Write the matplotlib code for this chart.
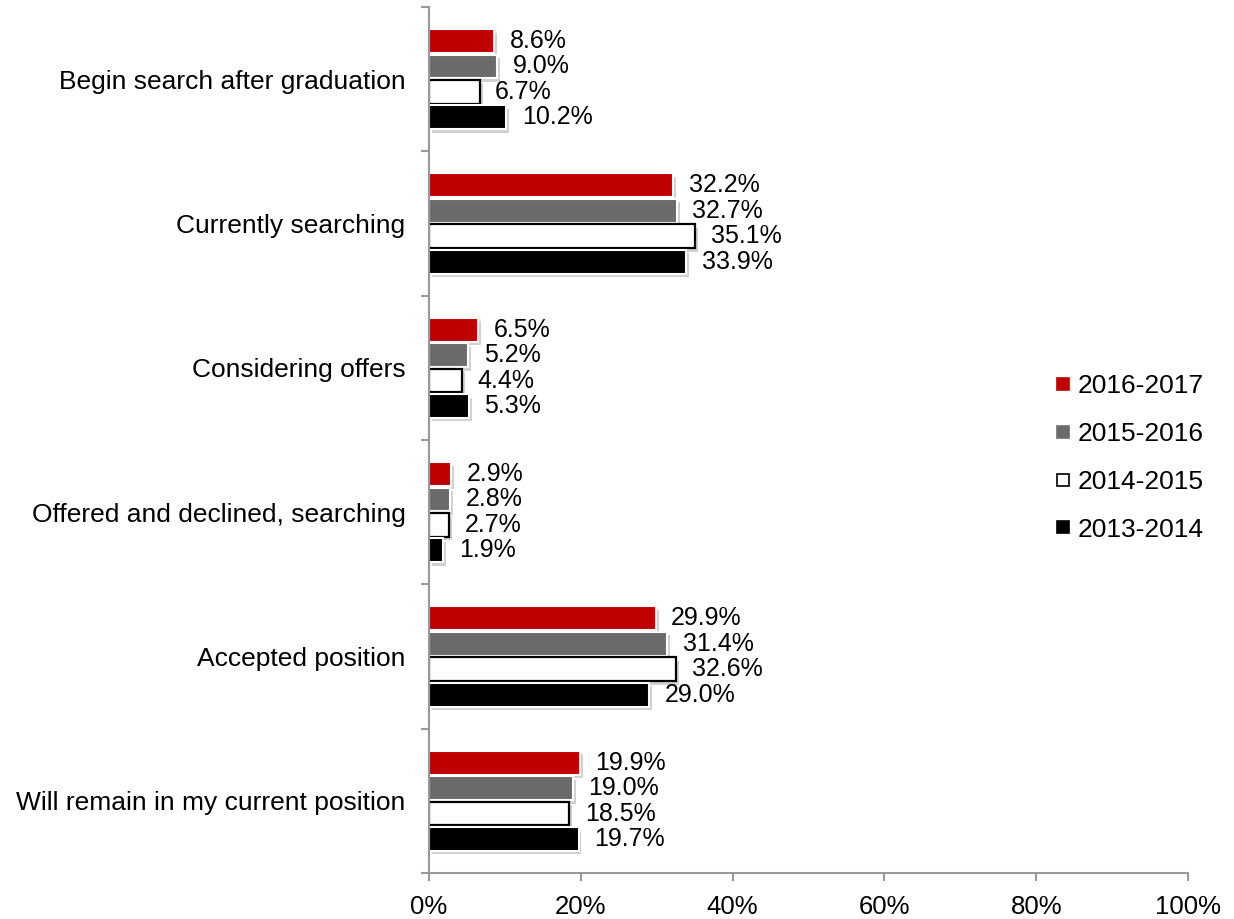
import matplotlib
matplotlib.use("Agg")
import matplotlib.pyplot as plt
import matplotlib.patheffects as pe
import numpy as np
from matplotlib.lines import Line2D

plt.rcParams['font.family'] = ['Liberation Sans', 'DejaVu Sans']

categories = ["Begin search after graduation", "Currently searching", "Considering offers",
              "Offered and declined, searching", "Accepted position",
              "Will remain in my current position"]
series_names = ["2016-2017", "2015-2016", "2014-2015", "2013-2014"]
values = {
    "2016-2017": [8.6, 32.2, 6.5, 2.9, 29.9, 19.9],
    "2015-2016": [9.0, 32.7, 5.2, 2.8, 31.4, 19.0],
    "2014-2015": [6.7, 35.1, 4.4, 2.7, 32.6, 18.5],
    "2013-2014": [10.2, 33.9, 5.3, 1.9, 29.0, 19.7],
}
colors = {"2016-2017": "#C00000", "2015-2016": "#6B6B6B",
          "2014-2015": "#FFFFFF", "2013-2014": "#000000"}
xticks = [0, 20, 40, 60, 80, 100]
xticklabels = ["0%", "20%", "40%", "60%", "80%", "100%"]

W, H = 1234, 919
fig = plt.figure(figsize=(W / 100, H / 100), dpi=100)
ax = fig.add_axes([429 / W, 1 - 873 / H, (1188 - 429) / W, (873 - 7) / H])

n = len(categories)
slot = 0.176
bh = 0.165
centers = np.arange(n)
shadow = [pe.SimplePatchShadow(offset=(2, -2.5), shadow_rgbFace='#999999', alpha=0.45), pe.Normal()]

for i, s in enumerate(series_names):
    ys = centers + (i - 1.5) * slot
    vals = values[s]
    if s == "2014-2015":
        bars = ax.barh(ys, vals, height=bh, color="white", edgecolor="black", linewidth=1.6, zorder=3)
    else:
        bars = ax.barh(ys, vals, height=bh, color=colors[s], edgecolor="white", linewidth=1.5, zorder=3)
    for b in bars:
        b.set_path_effects(shadow)
    for y, v in zip(ys, vals):
        ax.annotate(f"{v:.1f}%", xy=(v, y), xytext=(11, 0), textcoords="offset points",
                    va="center", ha="left", fontsize=18, zorder=4)

ax.set_xlim(0, 100)
ax.set_ylim(n - 0.5, -0.5)
ax.set_xticks(xticks)
ax.set_xticklabels(xticklabels, fontsize=18.5)
ax.set_yticks(centers)
ax.set_yticklabels(categories, fontsize=19)
ax.tick_params(axis='y', length=0, pad=17)
ax.set_yticks(np.arange(n + 1) - 0.5, minor=True)
ax.tick_params(axis='y', which='minor', length=6, color='#999999', width=1.5, direction='out')
ax.tick_params(axis='x', length=6, color='#999999', width=1.5, direction='out', pad=10)

for side in ['top', 'right']:
    ax.spines[side].set_visible(False)
for side in ['left', 'bottom']:
    ax.spines[side].set_color('#999999')
    ax.spines[side].set_linewidth(1.5)
    ax.spines[side].set_zorder(5)

handles = []
for s in series_names:
    handles.append(Line2D([], [], marker='s', linestyle='none', markersize=9,
                          markerfacecolor=colors[s],
                          markeredgecolor='black' if s in ("2014-2015", "2013-2014") else colors[s],
                          markeredgewidth=1.2))
fig.legend(handles, series_names, loc='center left', bbox_to_anchor=(1055 / W, 1 - 458 / H),
           frameon=False, fontsize=19, handlelength=0.6, handletextpad=0.25, labelspacing=0.9,
           borderpad=0, borderaxespad=0)

fig.savefig("out.png", dpi=100)
